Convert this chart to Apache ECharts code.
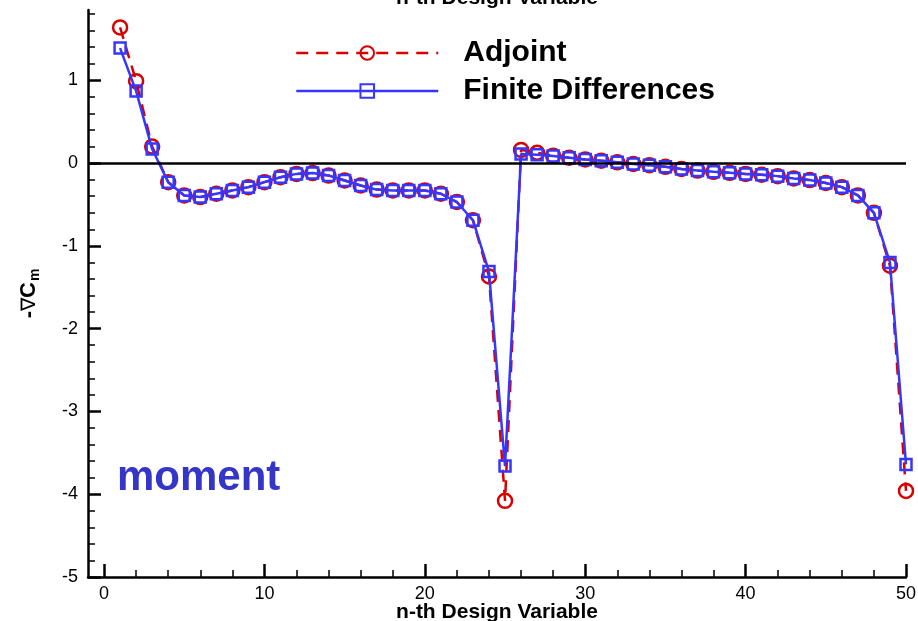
<!DOCTYPE html>
<html>
<head>
<meta charset="utf-8">
<script src="https://cdn.jsdelivr.net/npm/echarts@6/dist/echarts.min.js"></script>
<style>html,body{margin:0;padding:0;background:#fff}#c{width:918px;height:621px}</style>
</head>
<body>
<div id="c"></div>
<script>
const designVars = Array.from({length: 50}, (_, i) => i + 1);
const adjoint = [1.64, 0.99, 0.20, -0.23, -0.39, -0.41, -0.37, -0.33, -0.29, -0.23,
  -0.17, -0.13, -0.12, -0.15, -0.21, -0.27, -0.32, -0.33, -0.33, -0.33,
  -0.37, -0.47, -0.69, -1.37, -4.08, 0.16, 0.125, 0.09, 0.065, 0.045,
  0.03, 0.01, -0.01, -0.025, -0.045, -0.07, -0.09, -0.105, -0.117, -0.13,
  -0.14, -0.157, -0.185, -0.205, -0.24, -0.29, -0.39, -0.60, -1.24, -3.96];
const finiteDiff = [1.39, 0.87, 0.17, -0.23, -0.39, -0.41, -0.37, -0.33, -0.29, -0.23,
  -0.17, -0.13, -0.12, -0.15, -0.21, -0.27, -0.32, -0.33, -0.33, -0.33,
  -0.37, -0.47, -0.69, -1.31, -3.66, 0.11, 0.10, 0.085, 0.065, 0.045,
  0.03, 0.01, -0.01, -0.025, -0.045, -0.07, -0.09, -0.105, -0.117, -0.13,
  -0.14, -0.157, -0.185, -0.205, -0.24, -0.29, -0.39, -0.60, -1.20, -3.64];
const xTicks = [0, 10, 20, 30, 40, 50];
const yTicks = [-5, -4, -3, -2, -1, 0, 1];

const FONT = 'Liberation Sans, Arial, sans-serif';
const RED = '#d80000';
const BLUE = '#3636ff';

const chart = echarts.init(document.getElementById('c'), null, {renderer: 'canvas'});
chart.setOption({
  animation: false,
  backgroundColor: '#fff',
  grid: {left: 88, right: 12, top: 10, bottom: 44, containLabel: false, outerBoundsMode: 'none'},
  legend: {
    orient: 'vertical',
    left: 290,
    top: 31,
    itemWidth: 142,
    itemHeight: 17,
    itemGap: 4,
    selectedMode: false,
    lineStyle: {width: 2.5},
    textStyle: {fontFamily: FONT, fontWeight: 'bold', fontSize: 30, color: '#000', lineHeight: 34, padding: [0, 0, 0, 20]},
    data: ['Adjoint', 'Finite Differences']
  },
  xAxis: {
    type: 'value',
    min: -1,
    max: 50,
    splitNumber: 5,
    name: 'n-th Design Variable',
    nameLocation: 'middle',
    nameGap: 25,
    nameMoveOverlap: false,
    nameTextStyle: {fontFamily: FONT, fontWeight: 'bold', fontSize: 21, color: '#000'},
    axisLine: {show: true, onZero: false, lineStyle: {color: '#000', width: 2.5}},
    axisTick: {show: true, inside: true, length: 13, customValues: xTicks, lineStyle: {color: '#000', width: 2.5}},
    minorTick: {show: true, splitNumber: 5, length: 7, lineStyle: {color: '#000', width: 1.5}},
    axisLabel: {fontFamily: FONT, fontSize: 18, color: '#000', margin: 8, customValues: xTicks},
    splitLine: {show: false}
  },
  yAxis: {
    type: 'value',
    min: -5,
    max: 1.85,
    interval: 1,
    name: '-{n|∇}C{sub|m}',
    nameLocation: 'middle',
    nameRotate: 90,
    nameGap: 46,
    nameMoveOverlap: false,
    nameTextStyle: {
      fontFamily: FONT, fontWeight: 'bold', fontSize: 22, color: '#000',
      rich: {
        n: {fontFamily: FONT, fontWeight: 'normal', fontSize: 20, color: '#000'},
        sub: {fontFamily: FONT, fontWeight: 'bold', fontSize: 14, color: '#000', padding: [12, 0, 0, 1]}
      }
    },
    axisLine: {show: true, onZero: false, lineStyle: {color: '#000', width: 2.5}},
    axisTick: {show: true, inside: true, length: 13, customValues: yTicks, lineStyle: {color: '#000', width: 2.5}},
    minorTick: {show: true, splitNumber: 5, length: 7, lineStyle: {color: '#000', width: 1.5}},
    axisLabel: {fontFamily: FONT, fontSize: 18, color: '#000', margin: 10, customValues: yTicks},
    splitLine: {show: false}
  },
  graphic: [
    {type: 'text', left: 117, top: 457, style: {text: 'moment', font: 'bold 42px ' + FONT, fill: '#3535c8'}},
    {type: 'text', x: 497, y: 9, style: {text: 'n-th Design Variable', font: 'bold 21px ' + FONT, fill: '#000', align: 'center', verticalAlign: 'bottom'}}
  ],
  series: [
    {
      name: 'Adjoint',
      type: 'line',
      data: designVars.map((n, i) => [n, adjoint[i]]),
      symbol: 'circle',
      symbolSize: 14,
      showAllSymbol: true,
      itemStyle: {color: 'rgba(255,255,255,0)', borderColor: RED, borderWidth: 2.5},
      lineStyle: {color: RED, width: 2.5, type: [12, 8]},
      z: 2,
      markLine: {
        silent: true,
        symbol: 'none',
        label: {show: false},
        lineStyle: {color: '#000', width: 2.5, type: 'solid'},
        data: [{yAxis: 0}]
      }
    },
    {
      name: 'Finite Differences',
      type: 'line',
      data: designVars.map((n, i) => [n, finiteDiff[i]]),
      symbol: 'rect',
      symbolSize: 11,
      showAllSymbol: true,
      itemStyle: {color: 'rgba(255,255,255,0)', borderColor: BLUE, borderWidth: 2.5},
      lineStyle: {color: BLUE, width: 2.5, type: 'solid'},
      z: 3
    }
  ]
});
</script>
</body>
</html>
